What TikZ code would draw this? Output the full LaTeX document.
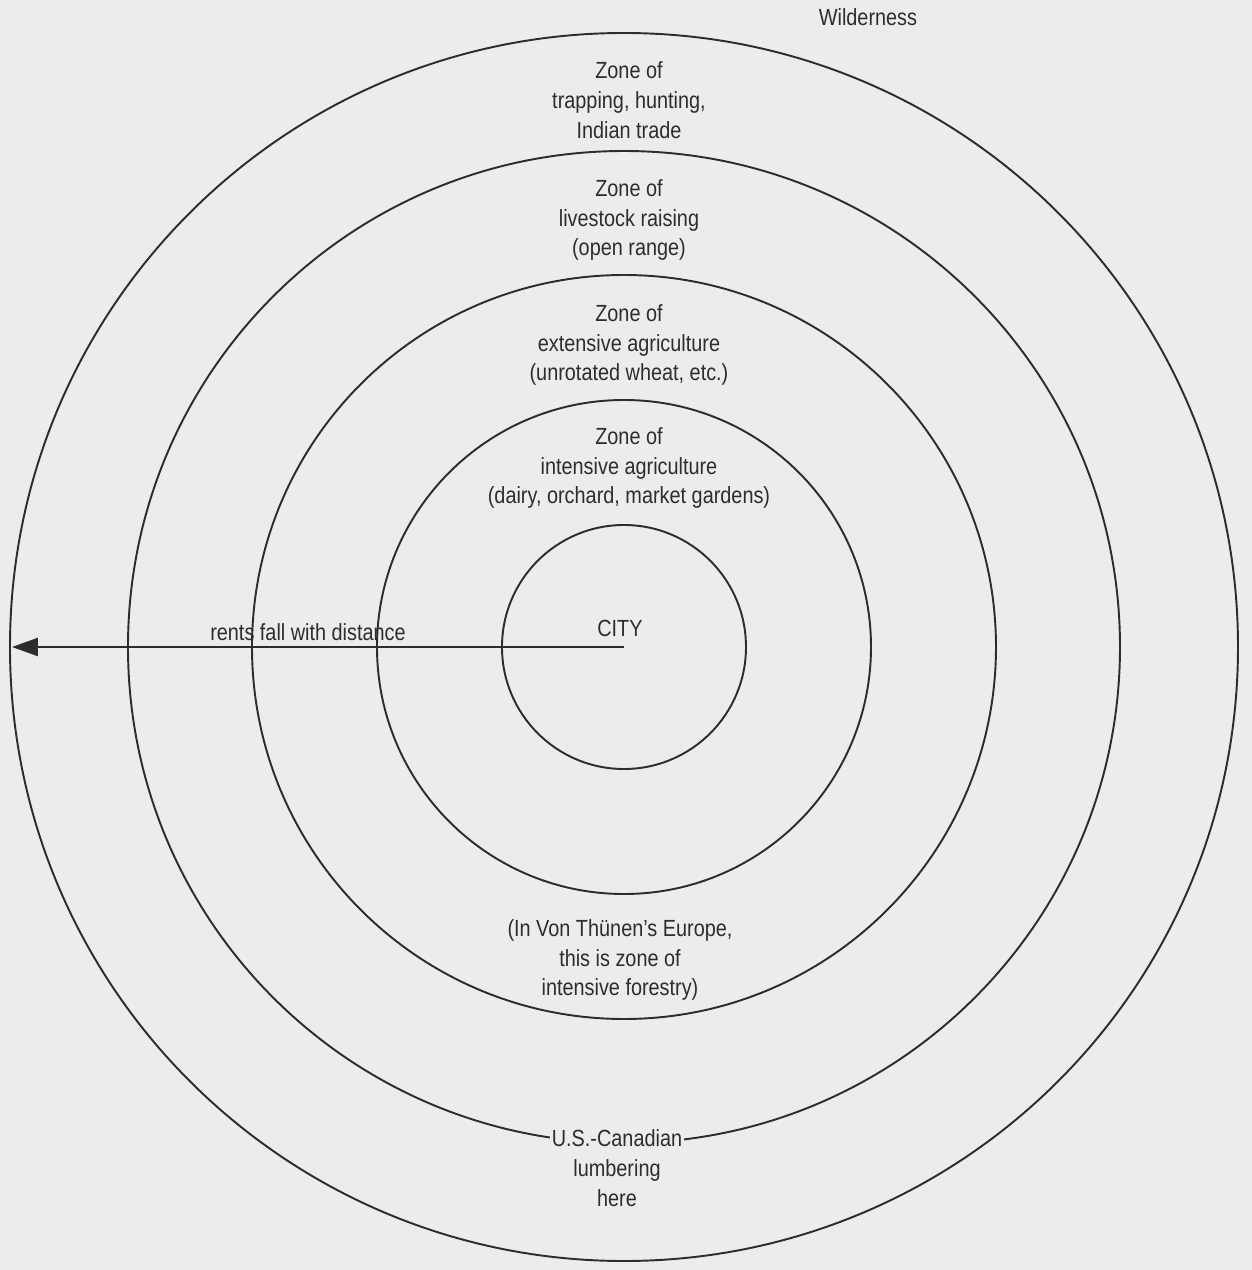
\documentclass[tikz,border=0pt]{standalone}
\usepackage{fontspec}
\setmainfont{Liberation Sans}
\newfontfamily\zonefont[FakeStretch=0.85]{Liberation Sans}
\usetikzlibrary{arrows.meta}

\definecolor{paper}{RGB}{236,236,234}
\definecolor{ink}{RGB}{45,45,45}

\begin{document}
\begin{tikzpicture}[
    zone label/.style={font=\zonefont\fontsize{13.3}{17}\selectfont, text=ink, align=center, anchor=center},
    ring line/.style={draw=ink, line width=1.1pt},
    rent arrow/.style={draw=ink, line width=1.5pt, -{Triangle[length=5.2mm, width=3.6mm]}}
]

%================CONFIGURATION================
% Ring radii from the city outwards (cm)
\def\ringradii{2.44,4.94,7.44,9.92,12.28}
\def\labelx{0.1} % labels sit a little right of the centre
%=============================================

% Paper (also fixes the margins)
\fill[paper] (-12.48,-12.46) rectangle (12.56,12.94);

\coordinate (city) at (0,0);
\coordinate (frontier) at (-12.24,0);

% --- 1. Rings ---
\foreach \r [count=\c] in \ringradii {
    \draw[ring line] (city) circle (\r);
}

% --- 2. Zone labels ---
\node[zone label] (wild) at (4.88,12.6) {Wilderness};
\node[zone label] (trap) at (\labelx,10.94) {Zone of\\trapping, hunting,\\Indian trade};
\node[zone label] (stock) at (\labelx,8.54) {Zone of\\livestock raising\\(open range)};
\node[zone label] (wheat) at (\labelx,6.04) {Zone of\\extensive agriculture\\(unrotated wheat, etc.)};
\node[zone label] (dairy) at (\labelx,3.58) {Zone of\\intensive agriculture\\(dairy, orchard, market gardens)};
\node[zone label] (cityname) at (-0.08,0.38) {CITY};
\node[zone label] (forest) at (-0.08,-6.26) {(In Von Thünen’s Europe,\\this is zone of\\intensive forestry)};
\node[zone label, fill=paper, inner sep=1pt] (lumber) at (-0.14,-10.42) {U.S.-Canadian\\lumbering\\here};

% --- 3. Rent gradient ---
\node[zone label] (rents) at (-6.32,0.3) {rents fall with distance};
\draw[rent arrow] (city) -- (frontier);

\end{tikzpicture}
\end{document}
